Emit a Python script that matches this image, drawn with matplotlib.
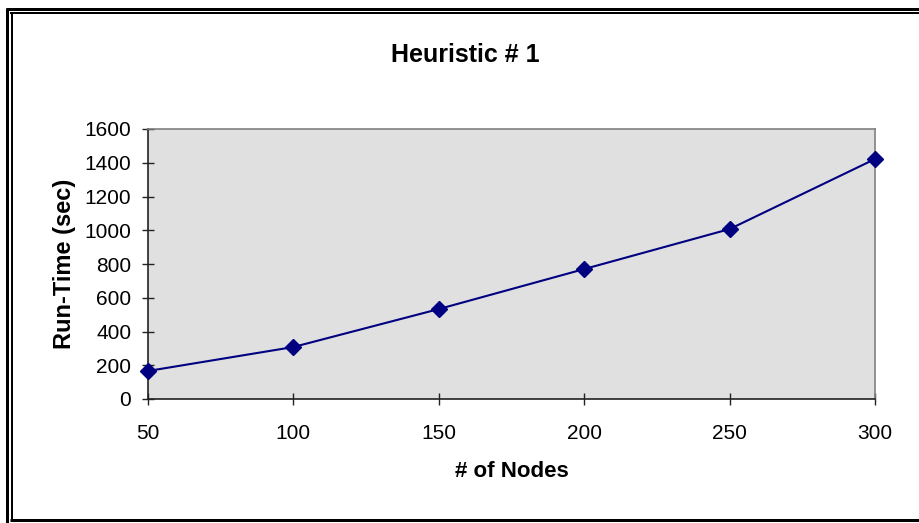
import matplotlib
matplotlib.use("Agg")
import matplotlib.pyplot as plt
from matplotlib.lines import Line2D

nodes = [50, 100, 150, 200, 250, 300]
run_time = [166, 308, 533, 770, 1007, 1422]
y_ticks = [0, 200, 400, 600, 800, 1000, 1200, 1400, 1600]

plt.rcParams['font.family'] = ['Liberation Sans', 'DejaVu Sans']

W, H = 920, 523
fig = plt.figure(figsize=(W / 100, H / 100), dpi=100)
fig.patch.set_facecolor('white')

ax = fig.add_axes([148 / W, 1 - 399 / H, (875 - 148) / W, (399 - 129) / H])
ax.set_facecolor('#E0E0E0')
ax.plot(nodes, run_time, color='#000080', lw=1.5, marker='D', markersize=8,
        markerfacecolor='#000080', markeredgecolor='#000080', clip_on=False, zorder=5)
ax.set_xlim(50, 300)
ax.set_ylim(0, 1600)
ax.set_xticks(nodes)
ax.set_yticks(y_ticks)
ax.tick_params(axis='both', direction='inout', length=8, width=1, color='#222222',
               labelsize=15)
ax.tick_params(axis='y', pad=8)
ax.tick_params(axis='x', pad=14)
for s in ['top', 'right']:
    ax.spines[s].set_color('#808080')
    ax.spines[s].set_linewidth(1.2)
for s in ['left', 'bottom']:
    ax.spines[s].set_color('#222222')
    ax.spines[s].set_linewidth(1.2)

ax.set_xlabel('# of Nodes', fontsize=16, fontweight='bold', labelpad=13)
ax.set_ylabel('Run-Time (sec)', fontsize=17, fontweight='bold', labelpad=6)
fig.text(465 / W, 1 - 55 / H, 'Heuristic # 1', fontsize=18, fontweight='bold',
         ha='center', va='center')

def px_line(x0, y0, x1, y1, lw_px):
    fig.add_artist(Line2D([x0 / W, x1 / W], [1 - y0 / H, 1 - y1 / H],
                          transform=fig.transFigure, color='black',
                          lw=lw_px * 72 / 100, solid_capstyle='butt'))

# outer frame (double line on left/top)
px_line(7.5, 7.5, 7.5, 523, 3)
px_line(6, 9, 920, 9, 3)
px_line(11.5, 12.5, 11.5, 519, 2)
px_line(10.5, 13, 920, 13, 2)
px_line(10.5, 519.5, 920, 519.5, 3)

fig.savefig('out.png', dpi=100)
